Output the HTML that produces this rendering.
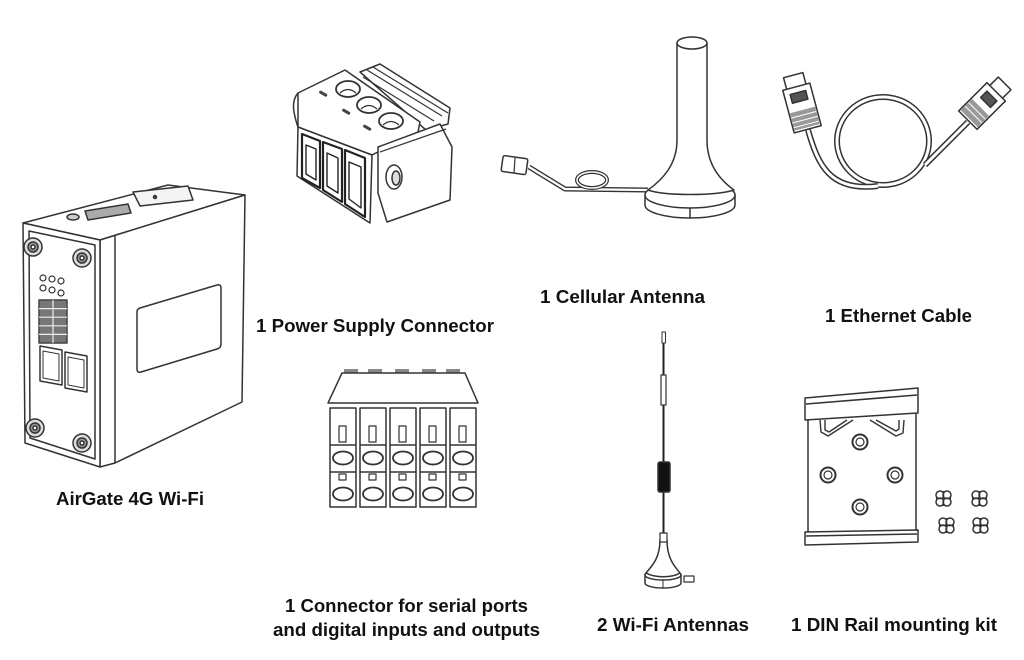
<!DOCTYPE html>
<html><head><meta charset="utf-8"><style>
html,body{margin:0;padding:0;background:#fff;}
svg{display:block}
text{font-family:"Liberation Sans",Arial,sans-serif;font-weight:bold;font-size:18px;fill:#111}
</style></head><body>
<svg width="1024" height="660" viewBox="0 0 1024 660" xmlns="http://www.w3.org/2000/svg">
<rect width="1024" height="660" fill="#fff"/>
<g fill="#fff" stroke="#333" stroke-width="1.5" stroke-linejoin="round">

<!-- ===== Router ===== -->
<polygon points="23,223 168,185 245,195 100,240"/>
<polygon points="133,192 188,186 193,200 140,206" fill="#f4f4f4"/>
<circle cx="155" cy="197" r="1.5" fill="#555"/>
<ellipse cx="73" cy="217" rx="6" ry="3" fill="#ccc"/>
<polygon points="85,211 128,204 131,213 88,220" fill="#aaa"/>
<polygon points="100,240 245,195 242,402 115,463 100,467"/>
<line x1="115" y1="236" x2="115" y2="463"/>
<polygon points="23,223 100,240 100,467 25,443"/>
<polygon points="29,231 95,245 95,459 30,438"/>
<path d="M140,308 L217,285 Q221,284 221,288 L221,344 Q221,348 217,349 L141,372 Q137,373 137,369 L137,312 Q137,309 140,308Z"/>
<g fill="#ddd">
<circle cx="33" cy="247" r="9"/><circle cx="82" cy="258" r="9"/><circle cx="35" cy="428" r="9"/><circle cx="82" cy="443" r="9"/>
</g>
<g fill="#999">
<circle cx="33" cy="247" r="5"/><circle cx="82" cy="258" r="5"/><circle cx="35" cy="428" r="5"/><circle cx="82" cy="443" r="5"/>
</g>
<g fill="#fff">
<circle cx="33" cy="247" r="2"/><circle cx="82" cy="258" r="2"/><circle cx="35" cy="428" r="2"/><circle cx="82" cy="443" r="2"/>
</g>
<g stroke-width="1.2">
<circle cx="43" cy="278" r="3"/><circle cx="52" cy="279" r="3"/><circle cx="61" cy="281" r="3"/>
<circle cx="43" cy="288" r="3"/><circle cx="52" cy="290" r="3"/><circle cx="61" cy="293" r="3"/>
</g>
<rect x="39" y="300" width="28" height="43" fill="#777" stroke="#444"/>
<g stroke="#eee" stroke-width="1.2">
<line x1="53" y1="300" x2="53" y2="343"/>
<line x1="39" y1="308.6" x2="67" y2="308.6"/><line x1="39" y1="317.2" x2="67" y2="317.2"/>
<line x1="39" y1="325.8" x2="67" y2="325.8"/><line x1="39" y1="334.4" x2="67" y2="334.4"/>
</g>
<polygon points="40,346 62,350 62,385 40,381"/>
<polygon points="43,351 59,354 59,381 43,378" stroke-width="1"/>
<polygon points="65,352 87,356 87,392 65,388"/>
<polygon points="68,357 84,360 84,388 68,385" stroke-width="1"/>

<!-- ===== Power supply connector ===== -->
<polygon points="360,72 380,64 450,108 448,124 426,130"/>
<g fill="none" stroke-width="1.2">
<line x1="367" y1="70" x2="442" y2="116"/><line x1="373" y1="67" x2="448" y2="113"/>
<line x1="363" y1="77" x2="434" y2="121"/>
</g>
<polygon points="298,93 345,70 420,122 418,132 372,155 298,127"/>
<path d="M298,93 Q292,100 294,112 Q296,122 298,127" fill="none"/>
<g fill="#fff" stroke-width="1.8">
<ellipse cx="348" cy="89" rx="12" ry="8"/><ellipse cx="369" cy="105" rx="12" ry="8"/><ellipse cx="391" cy="121" rx="12" ry="8"/>
</g>
<g fill="none" stroke-width="1.2">
<path d="M340,93 Q348,86 356,93"/><path d="M361,109 Q369,102 377,109"/><path d="M383,125 Q391,118 399,125"/>
</g>
<g fill="#444" stroke="none">
<rect x="319" y="92" width="9" height="3" rx="1.5" transform="rotate(30 323 93)"/>
<rect x="342" y="110" width="9" height="3" rx="1.5" transform="rotate(30 346 111)"/>
<rect x="363" y="126" width="9" height="3" rx="1.5" transform="rotate(30 367 127)"/>
</g>
<polygon points="298,127 372,155 370,223 297,176"/>
<g fill="#fff" stroke="#222" stroke-width="2.2">
<polygon points="302,134 320,141 320,188 302,178"/>
<polygon points="323,142 342,149 342,202 323,190"/>
<polygon points="345,150 365,158 365,217 345,204"/>
</g>
<g fill="none" stroke="#222" stroke-width="1.4">
<polygon points="306,145 316,149 316,180 306,174"/>
<polygon points="327,153 338,158 338,193 327,186"/>
<polygon points="349,162 361,167 361,208 349,199"/>
</g>
<polygon points="378,147 440,124 452,147 450,200 387,222 378,193"/>
<line x1="380" y1="152" x2="446" y2="129" stroke-width="1.2"/>
<ellipse cx="394" cy="177" rx="8" ry="12"/>
<ellipse cx="396" cy="178" rx="4" ry="7" fill="#ddd"/>

<!-- ===== Cellular antenna ===== -->
<g fill="none">
<path d="M648,190 L565,189 L529,167" stroke="#333" stroke-width="5"/>
<path d="M648,190 L565,189 L529,167" stroke="#fff" stroke-width="2.2"/>
<ellipse cx="592" cy="180" rx="15" ry="8" stroke="#333" stroke-width="4"/>
<ellipse cx="592" cy="180" rx="15" ry="8" stroke="#fff" stroke-width="1.5"/>
</g>
<rect x="502" y="157" width="25" height="16" rx="2" transform="rotate(8 514 165)"/>
<line x1="515" y1="158" x2="514" y2="173" stroke-width="1.2"/>
<path d="M645,195 L645,205 A45,13 0 0 0 735,205 L735,195 A45,13 0 0 0 645,195 Z"/>
<ellipse cx="690" cy="195" rx="45" ry="13"/>
<line x1="690" y1="208" x2="690" y2="218"/>
<path d="M677,43 L677,140 C677,165 662,180 648,190 C665,196 715,196 734,190 C720,180 707,165 707,140 L707,43 Z"/>
<ellipse cx="692" cy="43" rx="15" ry="6"/>

<!-- ===== Ethernet cable ===== -->
<g fill="none">
<ellipse cx="883" cy="141" rx="46" ry="44" stroke="#333" stroke-width="6"/>
<ellipse cx="883" cy="141" rx="46" ry="44" stroke="#fff" stroke-width="3"/>
<path d="M808,130 C818,165 830,192 878,186" stroke="#333" stroke-width="6"/>
<path d="M808,130 C818,165 830,192 878,186" stroke="#fff" stroke-width="3"/>
<path d="M968,122 L925,165" stroke="#333" stroke-width="6"/>
<path d="M968,122 L925,165" stroke="#fff" stroke-width="3"/>
</g>
<g transform="translate(802,108) rotate(-15)">
<rect x="-10" y="-34" width="20" height="13"/>
<rect x="-14" y="-22" width="28" height="44"/>
<rect x="-8" y="-16" width="16" height="9" fill="#555"/>
<rect x="-13" y="2" width="26" height="18" fill="#999" stroke="none"/>
<g stroke="#fff" stroke-width="1"><line x1="-13" y1="7" x2="13" y2="7"/><line x1="-13" y1="12" x2="13" y2="12"/><line x1="-13" y1="17" x2="13" y2="17"/></g>
</g>
<g transform="translate(982,106) rotate(45)">
<rect x="-9" y="-32" width="18" height="13"/>
<rect x="-13" y="-20" width="26" height="40"/>
<rect x="-7" y="-14" width="14" height="9" fill="#555"/>
<rect x="-12" y="2" width="24" height="16" fill="#999" stroke="none"/>
<g stroke="#fff" stroke-width="1"><line x1="-12" y1="7" x2="12" y2="7"/><line x1="-12" y1="12" x2="12" y2="12"/></g>
</g>

<!-- ===== Serial connector ===== -->
<g fill="#888" stroke="none">
<rect x="344" y="369" width="14" height="4"/><rect x="368" y="369" width="14" height="4"/><rect x="395" y="369" width="14" height="4"/><rect x="422" y="369" width="14" height="4"/><rect x="446" y="369" width="14" height="4"/>
</g>
<polygon points="342,373 465,373 478,403 328,403"/>
<g id="col">
<rect x="330" y="408" width="26" height="99"/>
<line x1="330" y1="445" x2="356" y2="445"/>
<line x1="330" y1="472" x2="356" y2="472"/>
<rect x="339" y="426" width="7" height="16" stroke-width="1.2"/>
<rect x="339" y="474" width="7" height="6" stroke-width="1.2"/>
<ellipse cx="343" cy="458" rx="10" ry="6.5" stroke-width="1.8"/>
<ellipse cx="343" cy="494" rx="10" ry="6.5" stroke-width="1.8"/>
</g>
<use href="#col" x="30"/><use href="#col" x="60"/><use href="#col" x="90"/><use href="#col" x="120"/>

<!-- ===== Wi-Fi antenna ===== -->
<line x1="663.5" y1="334" x2="663.5" y2="535" stroke="#222" stroke-width="2"/>
<rect x="662" y="332" width="3.5" height="11" stroke-width="1"/>
<rect x="661" y="375" width="5" height="30" stroke-width="1.2"/>
<rect x="658" y="462" width="12" height="30" rx="2" fill="#111"/>
<rect x="684" y="576" width="10" height="6" stroke-width="1.2"/>
<path d="M645,575 L645,583 A18,5 0 0 0 681,583 L681,575 A18,5 0 0 0 645,575 Z"/>
<ellipse cx="663" cy="575" rx="18" ry="5"/>
<path d="M660,540 C660,558 652,566 646,573 C655,578 672,578 680,573 C674,566 667,558 667,540 Z"/>
<rect x="660" y="533" width="7" height="9" stroke-width="1.2"/>
<line x1="663" y1="580" x2="663" y2="588" stroke-width="1"/>

<!-- ===== DIN rail ===== -->
<polygon points="808,415 916,412 916,538 808,540"/>
<polygon points="805,398 918,388 918,413 805,420"/>
<line x1="806" y1="404" x2="917" y2="395"/>
<polygon points="805,532 918,530 918,542 805,545"/>
<line x1="806" y1="536" x2="917" y2="534"/>
<g fill="none" stroke-width="1.4">
<path d="M820,420 L821,432 L828,436 L853,420"/>
<path d="M825,420 L825,430 L829,432 L847,420"/>
<path d="M870,420 L896,436 L903,433 L904,420"/>
<path d="M876,420 L896,431 L899,429 L899,420"/>
</g>
<g stroke-width="2">
<circle cx="860" cy="442" r="7.5"/><circle cx="828" cy="475" r="7.5"/><circle cx="895" cy="475" r="7.5"/><circle cx="860" cy="507" r="7.5"/>
</g>
<g stroke-width="1.2">
<circle cx="860" cy="442" r="4"/><circle cx="828" cy="475" r="4"/><circle cx="895" cy="475" r="4"/><circle cx="860" cy="507" r="4"/>
</g>
<g id="screw" stroke-width="1.5">
<circle cx="940" cy="495" r="4"/><circle cx="947" cy="495" r="4"/><circle cx="940" cy="502" r="4"/><circle cx="947" cy="502" r="4"/>
<line x1="943.5" y1="491" x2="943.5" y2="506"/><line x1="936" y1="498.5" x2="951" y2="498.5"/>
</g>
<use href="#screw" x="36"/><use href="#screw" x="3" y="27"/><use href="#screw" x="37" y="27"/>
</g>

<!-- ===== Labels ===== -->
<text x="256" y="332" textLength="238" lengthAdjust="spacingAndGlyphs">1 Power Supply Connector</text>
<text x="540" y="303" textLength="165" lengthAdjust="spacingAndGlyphs">1 Cellular Antenna</text>
<text x="825" y="322" textLength="147" lengthAdjust="spacingAndGlyphs">1 Ethernet Cable</text>
<text x="56" y="505" textLength="148" lengthAdjust="spacingAndGlyphs">AirGate 4G Wi-Fi</text>
<text x="285" y="612" textLength="243" lengthAdjust="spacingAndGlyphs">1 Connector for serial ports</text>
<text x="273" y="636" textLength="267" lengthAdjust="spacingAndGlyphs">and digital inputs and outputs</text>
<text x="597" y="631" textLength="152" lengthAdjust="spacingAndGlyphs">2 Wi-Fi Antennas</text>
<text x="791" y="631" textLength="206" lengthAdjust="spacingAndGlyphs">1 DIN Rail mounting kit</text>
</svg>
</body></html>
